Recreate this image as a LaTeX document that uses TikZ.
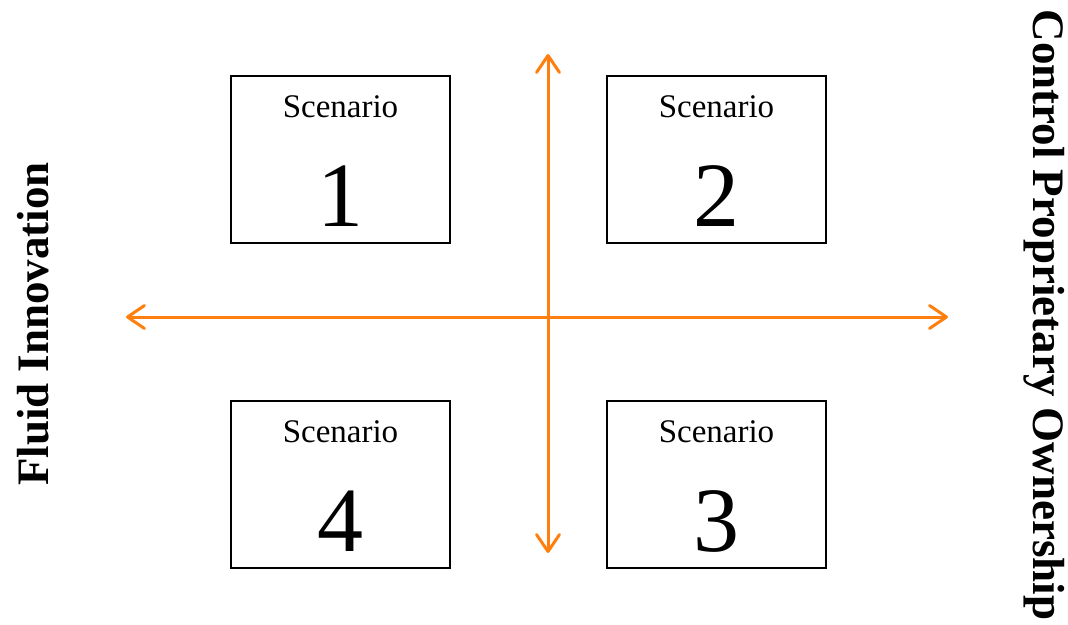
\documentclass[tikz,border=0pt]{standalone}
\usepackage{fontspec}
\setmainfont{Liberation Serif}
\usetikzlibrary{arrows.meta}
\definecolor{axis}{HTML}{FF7F0E}
\tikzset{
  box/.style={draw=black, line width=1.3pt, minimum width=219pt, minimum height=167pt, inner sep=0pt},
  title/.style={anchor=base, font=\fontsize{33}{33}\selectfont, inner sep=0pt},
  num/.style={anchor=base, font=\fontsize{92}{92}\selectfont, inner sep=0pt},
  axisline/.style={draw=axis, line width=3pt, {Straight Barb[length=17pt,width=23pt,line cap=round,line join=round]}-{Straight Barb[length=17pt,width=23pt,line cap=round,line join=round]}},
  side/.style={font=\bfseries\fontsize{45}{45}\selectfont, inner sep=0pt}
}
\begin{document}
\begin{tikzpicture}[x=1pt,y=-1pt]
\useasboundingbox (0,0) rectangle (1068,624);
\node[box] (b1) at (340.5,159.5) {};
\node[box] (b2) at (716.5,159.5) {};
\node[box] (b4) at (340.5,484.5) {};
\node[box] (b3) at (716.5,484.5) {};
\node[title] (t1) at (340.5,117) {Scenario};
\node[title] (t2) at (716.5,117) {Scenario};
\node[title] (t4) at (340.5,442) {Scenario};
\node[title] (t3) at (716.5,442) {Scenario};
\node[num] (n1) at (340.5,226) {1};
\node[num] (n2) at (716.5,226) {2};
\node[num] (n4) at (340.5,551) {4};
\node[num] (n3) at (716.5,551) {3};
\coordinate (L) at (126,317);
\coordinate (R) at (948,317);
\coordinate (T) at (548,54);
\coordinate (B) at (548,553);
\draw[axisline] (L) -- (R);
\draw[axisline] (T) -- (B);
\node[side, rotate=90] (fl) at (33,324) {Fluid Innovation};
\node[side, rotate=-90] (cp) at (1044,315) {Control Proprietary Ownership};
\end{tikzpicture}
\end{document}
